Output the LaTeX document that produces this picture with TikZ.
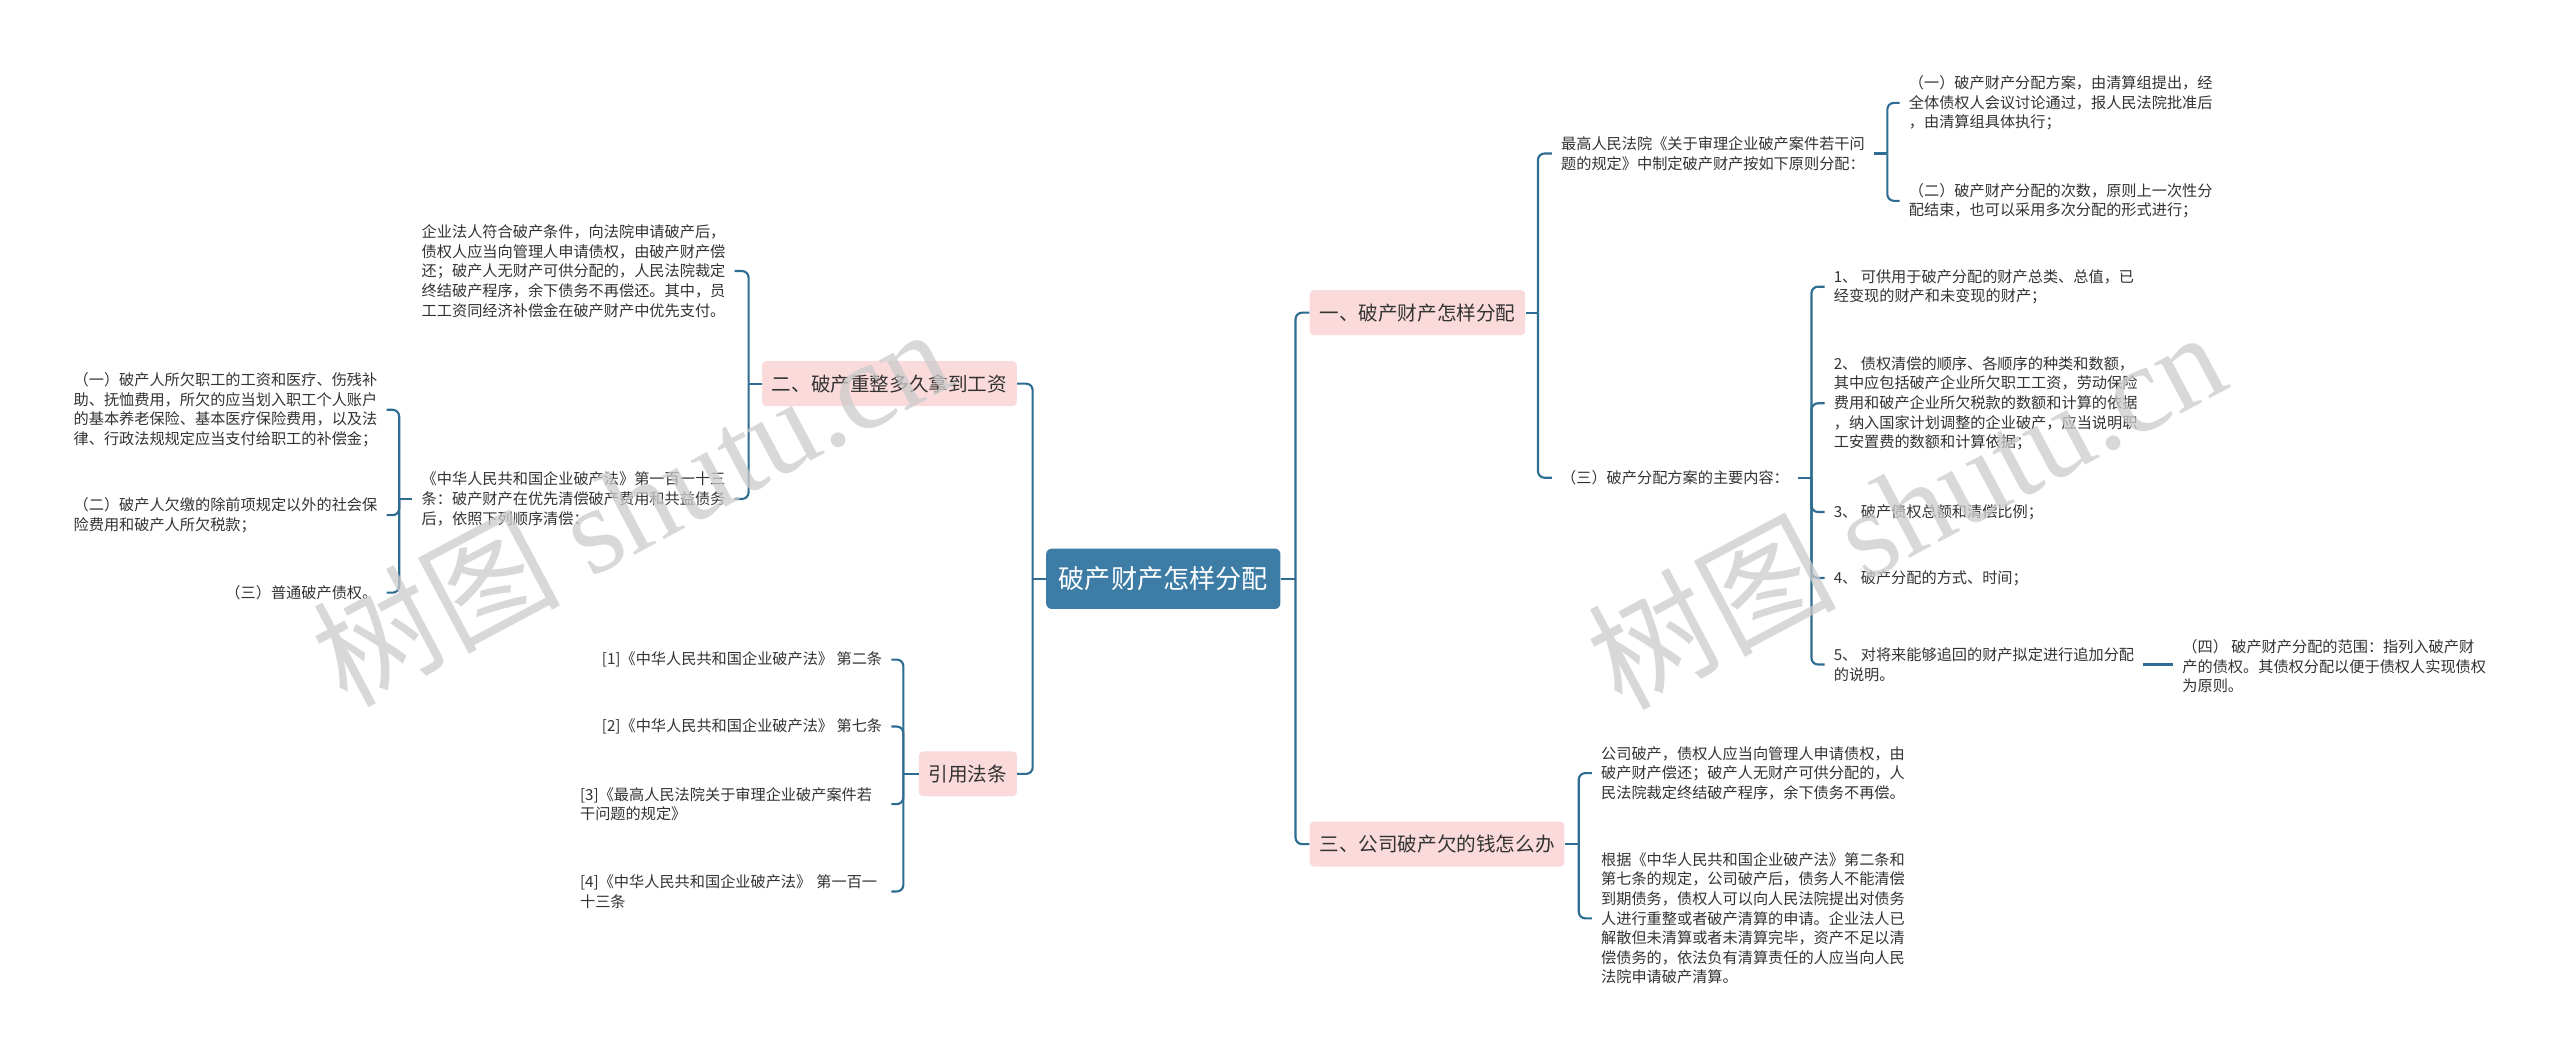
\documentclass[tikz,border=0pt]{standalone}
\usepackage{fontspec}
\newfontfamily\cjk{Noto Sans CJK SC}
\newfontfamily\wmserif{Liberation Serif}
\usetikzlibrary{calc}
\definecolor{linec}{HTML}{2E6C91}
\definecolor{cenc}{HTML}{3D7DA5}
\definecolor{pinkc}{HTML}{FADADA}
\definecolor{txtc}{HTML}{333333}
\tikzset{
  conn/.style={draw=linec, line width=1.3pt, rounded corners=4pt},
  leaf/.style={font=\cjk\fontsize{9.3}{12}\selectfont, text=txtc, inner xsep=5.5pt, inner ysep=2pt, align=left},
  branch/.style={font=\cjk\fontsize{12}{14}\selectfont, text=txtc, fill=pinkc, rounded corners=2.5pt, inner xsep=6pt, inner ysep=0pt, minimum height=27.5pt},
  root/.style={font=\cjk\fontsize{16}{18}\selectfont, text=white, fill=cenc, rounded corners=3.5pt, minimum width=143.5pt, minimum height=37pt, inner sep=0pt},
  wm/.style={font=\cjk\fontsize{76}{78}\selectfont, text=black!20, text opacity=0.75, rotate=28, anchor=base west, inner sep=0pt}
}
\begin{document}
\begin{tikzpicture}[x=1pt,y=-1pt]
\useasboundingbox (0,0) rectangle (1568,649);
\fill[white] (0,0) rectangle (1568,649);

% root and main branches
\node[root] (cen) at (712.5,354.5) {破产财产怎样分配};
\node[branch, anchor=west] (b1) at (802,191.5) {一、破产财产怎样分配};
\node[branch, anchor=west] (b3) at (802,517) {三、公司破产欠的钱怎么办};
\node[branch, anchor=east] (b2) at (623,235) {二、破产重整多久拿到工资};
\node[branch, anchor=east] (b4) at (623,474) {引用法条};

% right side leaves
\node[leaf, anchor=west] (a1) at (950.5,94) {最高人民法院《关于审理企业破产案件若干问\\题的规定》中制定破产财产按如下原则分配：};
\node[leaf, anchor=west] (a2) at (950.5,292.6) {（三）破产分配方案的主要内容：};
\node[leaf, anchor=west] (g1) at (1163.5,63) {（一）破产财产分配方案，由清算组提出，经\\全体债权人会议讨论通过，报人民法院批准后\\，由清算组具体执行；};
\node[leaf, anchor=west] (g2) at (1163.5,123) {（二）破产财产分配的次数，原则上一次性分\\配结束，也可以采用多次分配的形式进行；};
\node[leaf, anchor=west] (h1) at (1117.5,175.6) {1、 可供用于破产分配的财产总类、总值，已\\经变现的财产和未变现的财产；};
\node[leaf, anchor=west] (h2) at (1117.5,247) {2、 债权清偿的顺序、各顺序的种类和数额，\\其中应包括破产企业所欠职工工资，劳动保险\\费用和破产企业所欠税款的数额和计算的依据\\，纳入国家计划调整的企业破产，应当说明职\\工安置费的数额和计算依据；};
\node[leaf, anchor=west] (h3) at (1117.5,313.6) {3、 破产债权总额和清偿比例；};
\node[leaf, anchor=west] (h4) at (1117.5,354) {4、 破产分配的方式、时间；};
\node[leaf, anchor=west] (h5) at (1117.5,407) {5、 对将来能够追回的财产拟定进行追加分配\\的说明。};
\node[leaf, anchor=west] (k) at (1331,408) {（四） 破产财产分配的范围：指列入破产财\\产的债权。其债权分配以便于债权人实现债权\\为原则。};
\node[leaf, anchor=west] (c1) at (975,473.5) {公司破产，债权人应当向管理人申请债权，由\\破产财产偿还；破产人无财产可供分配的，人\\民法院裁定终结破产程序，余下债务不再偿。};
\node[leaf, anchor=west] (c2) at (975,562.5) {根据《中华人民共和国企业破产法》第二条和\\第七条的规定，公司破产后，债务人不能清偿\\到期债务，债权人可以向人民法院提出对债务\\人进行重整或者破产清算的申请。企业法人已\\解散但未清算或者未清算完毕，资产不足以清\\偿债务的，依法负有清算责任的人应当向人民\\法院申请破产清算。};

% left side leaves
\node[leaf, anchor=east] (d1) at (450,166) {企业法人符合破产条件，向法院申请破产后，\\债权人应当向管理人申请债权，由破产财产偿\\还；破产人无财产可供分配的，人民法院裁定\\终结破产程序，余下债务不再偿还。其中，员\\工工资同经济补偿金在破产财产中优先支付。};
\node[leaf, anchor=east] (d2) at (450,305.6) {《中华人民共和国企业破产法》第一百一十三\\条：破产财产在优先清偿破产费用和共益债务\\后，依照下列顺序清偿：};
\node[leaf, anchor=east] (e1) at (236.8,251) {（一）破产人所欠职工的工资和医疗、伤残补\\助、抚恤费用，所欠的应当划入职工个人账户\\的基本养老保险、基本医疗保险费用，以及法\\律、行政法规规定应当支付给职工的补偿金；};
\node[leaf, anchor=east] (e2) at (236.8,315.5) {（二）破产人欠缴的除前项规定以外的社会保\\险费用和破产人所欠税款；};
\node[leaf, anchor=east] (e3) at (236.8,363) {（三）普通破产债权。};
\node[leaf, anchor=east] (f1) at (546,404) {[1]《中华人民共和国企业破产法》 第二条};
\node[leaf, anchor=east] (f2) at (546,445) {[2]《中华人民共和国企业破产法》 第七条};
\node[leaf, anchor=east, text width=185pt] (f3) at (546,492.5) {[3]《最高人民法院关于审理企业破产案件若\\干问题的规定》};
\node[leaf, anchor=east, text width=185pt] (f4) at (546,546) {[4]《中华人民共和国企业破产法》 第一百一\\十三条};

% trunk coordinates
\coordinate (tR) at (793.5,354.5);
\coordinate (tL) at (632.5,354.5);
\coordinate (tb1) at (942,191.5);
\coordinate (ta1) at (1156,94);
\coordinate (ta2) at (1109.5,292.6);
\coordinate (tb3) at (967,517);
\coordinate (tb2) at (458.5,235);
\coordinate (td2) at (244.5,305.6);
\coordinate (tb4) at (553.3,474);

% connectors
\draw[conn] (cen.east) -- (tR);
\draw[conn] (tR) |- (b1.west);
\draw[conn] (tR) |- (b3.west);
\draw[conn] (cen.west) -- (tL);
\draw[conn] (tL) |- (b2.east);
\draw[conn] (tL) |- (b4.east);

\draw[conn] (b1.east) -- (tb1);
\draw[conn] (tb1) |- (a1.west);
\draw[conn] (tb1) |- (a2.west);
\draw[conn] (a1.east) -- (ta1);
\draw[conn] (ta1) |- (g1.west);
\draw[conn] (ta1) |- (g2.west);
\draw[conn] (a2.east) -- (ta2);
\foreach \c in {h1,h2,h3,h4,h5} {\draw[conn] (ta2) |- (\c.west);}
\draw[conn] (h5.east) -- (h5.east -| k.west);

\draw[conn] (b3.east) -- (tb3);
\draw[conn] (tb3) |- (c1.west);
\draw[conn] (tb3) |- (c2.west);

\draw[conn] (b2.west) -- (tb2);
\draw[conn] (tb2) |- (d1.east);
\draw[conn] (tb2) |- (d2.east);
\draw[conn] (d2.west) -- (td2);
\foreach \c in {e1,e2,e3} {\draw[conn] (td2) |- (\c.east);}

\draw[conn] (b4.west) -- (tb4);
\foreach \c in {f1,f2,f3,f4} {\draw[conn] (tb4) |- (\c.east);}

% watermarks
\node[wm] (w1) at (212,434) {树图 {\wmserif shutu.cn}};
\node[wm] (w2) at (993,436) {树图 {\wmserif shutu.cn}};
\end{tikzpicture}
\end{document}
